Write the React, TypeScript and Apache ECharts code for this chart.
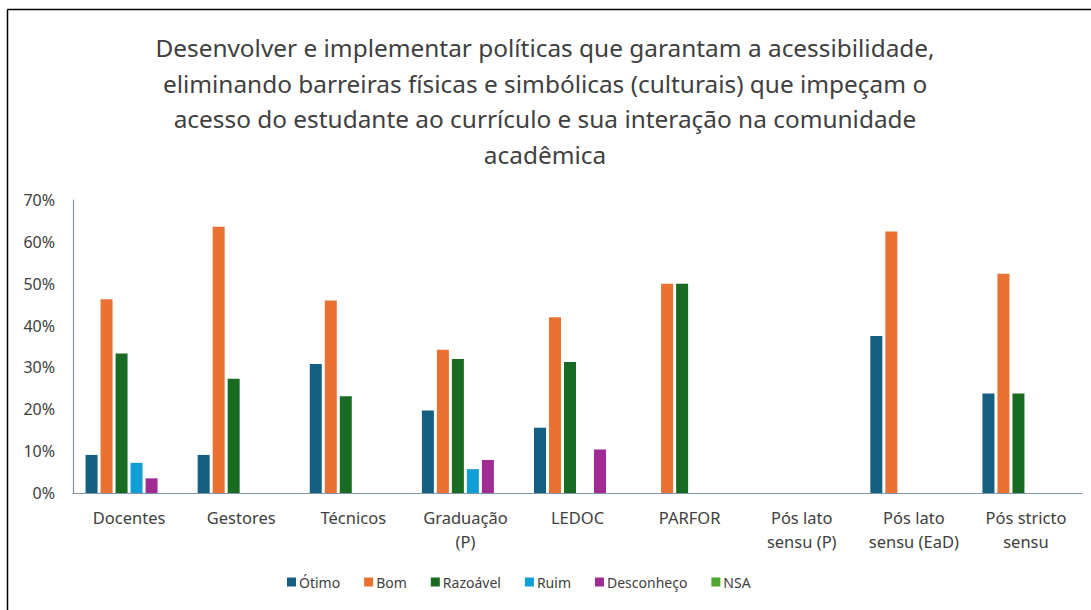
import React, { useEffect, useRef } from "react";
import * as echarts from "echarts";

const categories = [
  "Docentes",
  "Gestores",
  "Técnicos",
  "Graduação\n(P)",
  "LEDOC",
  "PARFOR",
  "Pós lato\nsensu (P)",
  "Pós lato\nsensu (EaD)",
  "Pós stricto\nsensu",
];

const seriesNames = ["Ótimo", "Bom", "Razoável", "Ruim", "Desconheço", "NSA"];

const otimo = [9.1, 9.1, 30.8, 19.7, 15.6, 0, 0, 37.5, 23.8];
const bom = [46.3, 63.6, 46.0, 34.2, 42.0, 50, 0, 62.5, 52.4];
const razoavel = [33.3, 27.3, 23.1, 32.0, 31.3, 50, 0, 0, 23.8];
const ruim = [7.2, 0, 0, 5.7, 0, 0, 0, 0, 0];
const desconheco = [3.5, 0, 0, 7.9, 10.4, 0, 0, 0, 0];
const nsa = [0, 0, 0, 0, 0, 0, 0, 0, 0];

const colors = ["#156082", "#E97132", "#196B24", "#0F9ED5", "#A02B93", "#4EA72E"];

const titleText =
  "Desenvolver e implementar políticas que garantam a acessibilidade,\n" +
  "eliminando barreiras físicas e simbólicas (culturais) que impeçam o\n" +
  "acesso do estudante ao currículo e sua interação na comunidade\n" +
  "acadêmica";

const FONT = "'Noto Sans', sans-serif";

export default function App() {
  const ref = useRef<HTMLDivElement>(null);

  useEffect(() => {
    if (!ref.current) return;
    const chart = echarts.init(ref.current, undefined, { renderer: "svg" });
    const allData = [otimo, bom, razoavel, ruim, desconheco, nsa];
    chart.setOption({
      animation: false,
      backgroundColor: "#ffffff",
      color: colors,
      textStyle: { fontFamily: FONT },
      legend: {
        bottom: 16,
        left: 282,
        icon: "rect",
        itemWidth: 9,
        itemHeight: 9,
        itemGap: 24,
        textStyle: { fontFamily: FONT, fontSize: 14, color: "#404040", padding: [0, 0, 0, -2] },
        data: seriesNames,
      },
      grid: { left: 73, right: 9, top: 200, bottom: 117, containLabel: false },
      xAxis: {
        type: "category",
        data: categories,
        axisLine: { show: true, lineStyle: { color: "#7F96A8", width: 1.2 } },
        axisTick: { show: false },
        axisLabel: {
          fontFamily: FONT,
          fontSize: 16.5,
          color: "#404040",
          lineHeight: 24,
          margin: 12,
          interval: 0,
        },
      },
      yAxis: {
        type: "value",
        min: 0,
        max: 70,
        interval: 10,
        axisLine: { show: true, lineStyle: { color: "#7F96A8", width: 1.2 } },
        axisTick: { show: false },
        splitLine: { show: false },
        axisLabel: {
          fontFamily: FONT,
          fontSize: 16,
          color: "#404040",
          margin: 18,
          formatter: "{value}%",
        },
      },
      series: seriesNames.map((name, i) => ({
        name,
        type: "bar",
        data: allData[i],
        barWidth: 12,
        barGap: "25%",
        itemStyle: { color: colors[i] },
      })),
      graphic: [
        {
          type: "text",
          x: 545,
          y: 30,
          silent: true,
          style: {
            text: titleText,
            align: "center",
            verticalAlign: "top",
            fontFamily: FONT,
            fontSize: 24.4,
            lineHeight: 35.5,
            fill: "#404040",
          },
        },
        {
          type: "line",
          shape: { x1: 7.5, y1: 9.5, x2: 1091, y2: 9.5 },
          style: { stroke: "#000000", lineWidth: 1.5 },
          silent: true,
        },
        {
          type: "line",
          shape: { x1: 7.5, y1: 9.5, x2: 7.5, y2: 610 },
          style: { stroke: "#000000", lineWidth: 1.5 },
          silent: true,
        },
      ],
    });
    return () => chart.dispose();
  }, []);

  return (
    <div
      ref={ref}
      style={{ position: "fixed", left: 0, top: 0, width: 1091, height: 610 }}
    />
  );
}
